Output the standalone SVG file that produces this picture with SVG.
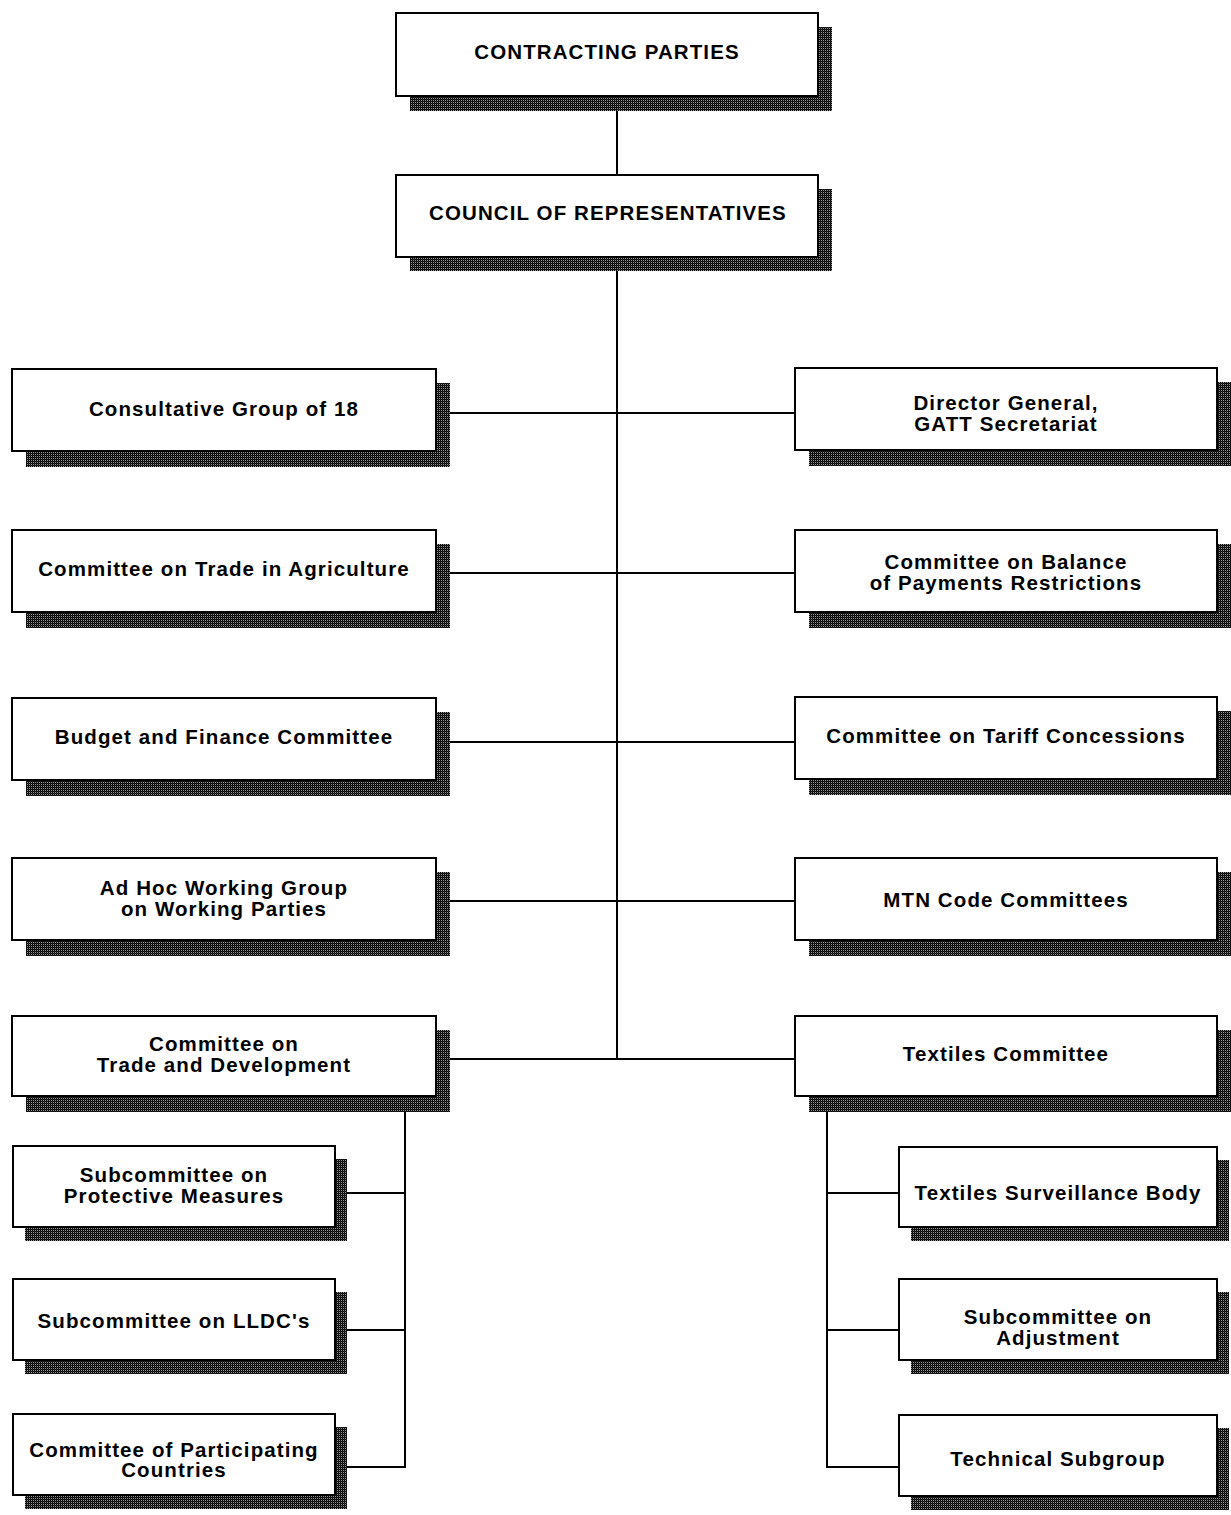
<svg xmlns="http://www.w3.org/2000/svg" width="1231" height="1515" viewBox="0 0 1231 1515">
<defs>
<pattern id="shade" width="2" height="2" patternUnits="userSpaceOnUse">
<rect width="2" height="2" fill="#000"/>
<rect x="1" y="0" width="1" height="1" fill="#999"/>
<rect x="0" y="1" width="1" height="1" fill="#222"/>
</pattern>
<style>
.box{fill:#fff;stroke:#000;stroke-width:2}
.sh{fill:url(#shade)}
.t{font-family:"Liberation Sans",Arial,sans-serif;font-weight:bold;font-size:20.5px;letter-spacing:1.1px;fill:#000;text-anchor:middle}
.c{fill:none;stroke:#000;stroke-width:2}
</style>
</defs>
<rect width="1231" height="1515" fill="#fff"/>
<g id="connectors">
<line class="c" x1="617" y1="97" x2="617" y2="175"/>
<line class="c" x1="617" y1="257" x2="617" y2="1059"/>
<line class="c" x1="450" y1="413" x2="795" y2="413"/>
<line class="c" x1="450" y1="573" x2="795" y2="573"/>
<line class="c" x1="450" y1="742" x2="795" y2="742"/>
<line class="c" x1="450" y1="901" x2="795" y2="901"/>
<line class="c" x1="450" y1="1059" x2="795" y2="1059"/>
<polyline class="c" points="405,1110 405,1467 347,1467"/>
<line class="c" x1="347" y1="1193" x2="405" y2="1193"/>
<line class="c" x1="347" y1="1330" x2="405" y2="1330"/>
<polyline class="c" points="827,1110 827,1467 899,1467"/>
<line class="c" x1="827" y1="1193" x2="899" y2="1193"/>
<line class="c" x1="827" y1="1330" x2="899" y2="1330"/>
</g>
<g id="contracting-parties">
<rect class="sh" x="410" y="27" width="422" height="84"/>
<rect class="box" x="396" y="13" width="422" height="83"/>
<text class="t" x="607" y="59">CONTRACTING PARTIES</text>
</g>
<g id="council">
<rect class="sh" x="410" y="189" width="422" height="82"/>
<rect class="box" x="396" y="175" width="422" height="82"/>
<text class="t" x="608" y="220">COUNCIL OF REPRESENTATIVES</text>
</g>
<g id="consultative-group">
<rect class="sh" x="26" y="383" width="424" height="84"/>
<rect class="box" x="12" y="369" width="424" height="82"/>
<text class="t" x="224" y="416">Consultative Group of 18</text>
</g>
<g id="agriculture">
<rect class="sh" x="26" y="544" width="424" height="84"/>
<rect class="box" x="12" y="530" width="424" height="82"/>
<text class="t" x="224" y="576">Committee on Trade in Agriculture</text>
</g>
<g id="budget">
<rect class="sh" x="26" y="712" width="424" height="84"/>
<rect class="box" x="12" y="698" width="424" height="82"/>
<text class="t" x="224" y="744">Budget and Finance Committee</text>
</g>
<g id="adhoc">
<rect class="sh" x="26" y="872" width="424" height="84"/>
<rect class="box" x="12" y="858" width="424" height="82"/>
<text class="t" x="224" y="895">Ad Hoc Working Group</text>
<text class="t" x="224" y="916">on Working Parties</text>
</g>
<g id="trade-development">
<rect class="sh" x="26" y="1030" width="424" height="82"/>
<rect class="box" x="12" y="1016" width="424" height="80"/>
<text class="t" x="224" y="1051">Committee on</text>
<text class="t" x="224" y="1072">Trade and Development</text>
</g>
<g id="director-general">
<rect class="sh" x="809" y="382" width="422" height="84"/>
<rect class="box" x="795" y="368" width="422" height="82"/>
<text class="t" x="1006" y="410">Director General,</text>
<text class="t" x="1006" y="431">GATT Secretariat</text>
</g>
<g id="balance-payments">
<rect class="sh" x="809" y="544" width="422" height="84"/>
<rect class="box" x="795" y="530" width="422" height="82"/>
<text class="t" x="1006" y="569">Committee on Balance</text>
<text class="t" x="1006" y="590">of Payments Restrictions</text>
</g>
<g id="tariff">
<rect class="sh" x="809" y="711" width="422" height="84"/>
<rect class="box" x="795" y="697" width="422" height="82"/>
<text class="t" x="1006" y="743">Committee on Tariff Concessions</text>
</g>
<g id="mtn">
<rect class="sh" x="809" y="872" width="422" height="84"/>
<rect class="box" x="795" y="858" width="422" height="82"/>
<text class="t" x="1006" y="907">MTN Code Committees</text>
</g>
<g id="textiles">
<rect class="sh" x="809" y="1030" width="422" height="82"/>
<rect class="box" x="795" y="1016" width="422" height="80"/>
<text class="t" x="1006" y="1061">Textiles Committee</text>
</g>
<g id="protective">
<rect class="sh" x="25" y="1159" width="322" height="82"/>
<rect class="box" x="13" y="1146" width="322" height="81"/>
<text class="t" x="174" y="1182">Subcommittee on</text>
<text class="t" x="174" y="1203">Protective Measures</text>
</g>
<g id="lldc">
<rect class="sh" x="25" y="1292" width="322" height="82"/>
<rect class="box" x="13" y="1279" width="322" height="81"/>
<text class="t" x="174" y="1328">Subcommittee on LLDC's</text>
</g>
<g id="participating">
<rect class="sh" x="25" y="1427" width="322" height="82"/>
<rect class="box" x="13" y="1414" width="322" height="81"/>
<text class="t" x="174" y="1457">Committee of Participating</text>
<text class="t" x="174" y="1477">Countries</text>
</g>
<g id="surveillance">
<rect class="sh" x="911" y="1160" width="318" height="81"/>
<rect class="box" x="899" y="1147" width="318" height="80"/>
<text class="t" x="1058" y="1200">Textiles Surveillance Body</text>
</g>
<g id="adjustment">
<rect class="sh" x="911" y="1292" width="318" height="82"/>
<rect class="box" x="899" y="1279" width="318" height="81"/>
<text class="t" x="1058" y="1324">Subcommittee on</text>
<text class="t" x="1058" y="1345">Adjustment</text>
</g>
<g id="technical">
<rect class="sh" x="911" y="1428" width="318" height="82"/>
<rect class="box" x="899" y="1415" width="318" height="81"/>
<text class="t" x="1058" y="1466">Technical Subgroup</text>
</g>
</svg>
